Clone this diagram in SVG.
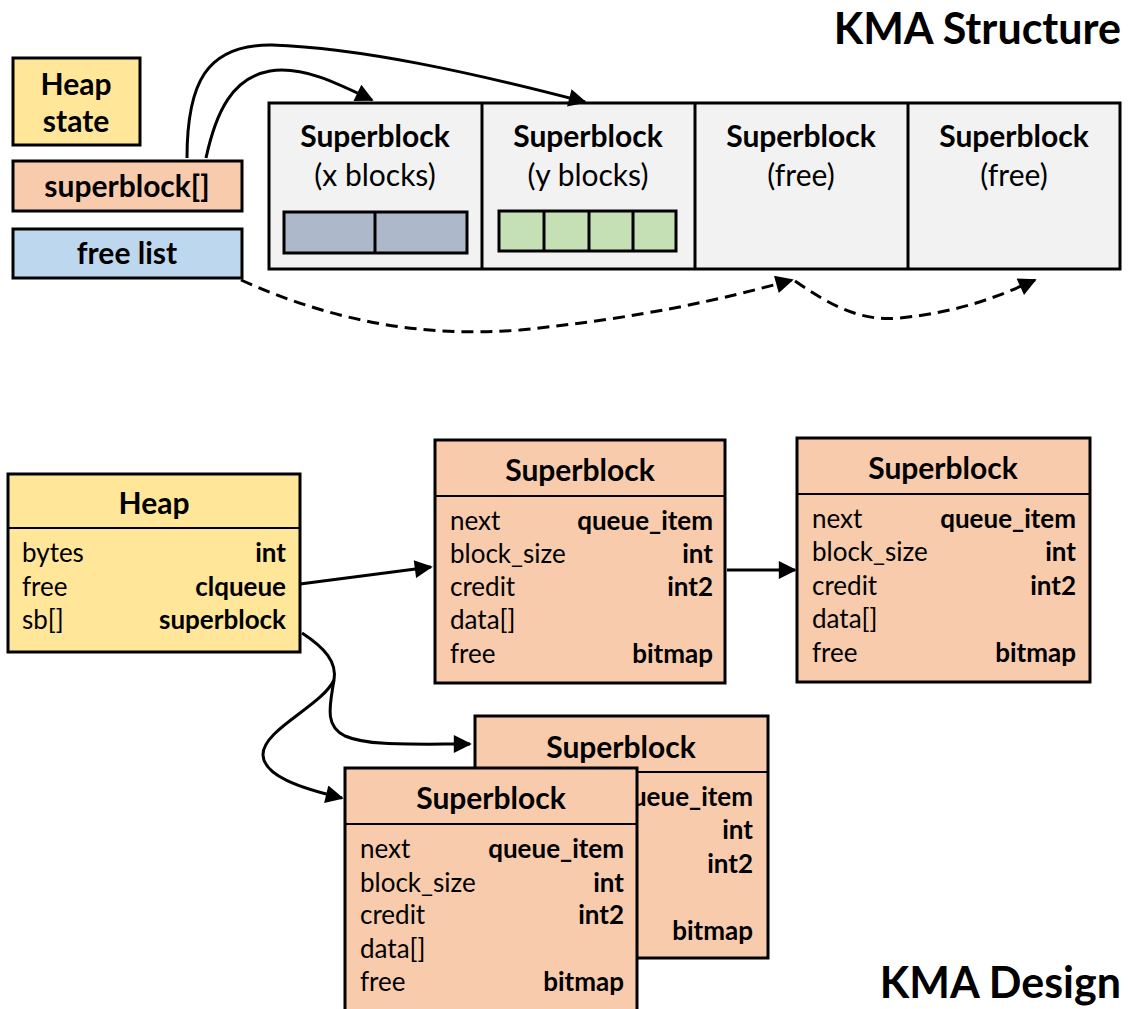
<svg xmlns="http://www.w3.org/2000/svg" width="1128" height="1009" viewBox="0 0 1128 1009">
  <style>
    text { font-family: Lato, "Open Sans", "Liberation Sans", sans-serif; fill: #000; }
    .title { font-size: 43px; font-weight: bold; text-anchor: end; }
    .lbl { font-size: 30px; font-weight: bold; text-anchor: middle; }
    .cellT { font-size: 30px; font-weight: bold; text-anchor: middle; }
    .cellS { font-size: 30px; text-anchor: middle; }
    .hdr { font-size: 30px; font-weight: bold; text-anchor: middle; }
    .f { font-size: 26px; }
    .t { font-size: 26px; font-weight: bold; text-anchor: end; }
    .box { stroke: #000; stroke-width: 3; }
    .div { stroke: #000; stroke-width: 2; fill: none; }
    .yel { fill: #FFE699; }
    .peach { fill: #F8CBAD; }
    .blue { fill: #BDD7EE; }
    .gray { fill: #F2F2F2; }
    .slate { fill: #ADB9CA; }
    .green { fill: #C5E0B4; }
    .wire { fill: none; stroke: #000; stroke-width: 3; }
    .dash { stroke-dasharray: 12 7; }
  </style>
  <defs>
    <marker id="arrow" viewBox="0 0 10 10" refX="9" refY="5" markerWidth="7.5" markerHeight="6" markerUnits="strokeWidth" orient="auto">
      <path d="M0,0 L10,5 L0,10 z" fill="#000"/>
    </marker>
  </defs>

  <rect width="1128" height="1009" fill="#fff"/>

  <!-- headings -->
  <text class="title" x="1121" y="44">KMA Structure</text>
  <text class="title" x="1121" y="998">KMA Design</text>

  <!-- ===== structure view ===== -->
  <g id="heap-state">
    <rect class="box yel" x="13" y="58" width="127" height="87"/>
    <text class="lbl" x="76" y="95">Heap</text>
    <text class="lbl" x="76" y="132">state</text>
  </g>
  <g id="superblock-array">
    <rect class="box peach" x="13" y="161" width="229" height="50"/>
    <text class="lbl" x="127" y="197">superblock[]</text>
  </g>
  <g id="free-list">
    <rect class="box blue" x="13" y="229" width="229" height="49"/>
    <text class="lbl" x="127" y="264">free list</text>
  </g>

  <g id="superblock-row">
    <rect class="box gray" x="269" y="103" width="851" height="166"/>
    <line class="box" x1="482" y1="103" x2="482" y2="269"/>
    <line class="box" x1="695" y1="103" x2="695" y2="269"/>
    <line class="box" x1="908" y1="103" x2="908" y2="269"/>
  </g>
  <g id="sb-x">
    <text class="cellT" x="375" y="147">Superblock</text>
    <text class="cellS" x="375" y="186">(x blocks)</text>
    <rect class="box slate" x="284" y="212" width="183" height="41"/>
    <line class="box" x1="375" y1="212" x2="375" y2="253"/>
  </g>
  <g id="sb-y">
    <text class="cellT" x="588" y="147">Superblock</text>
    <text class="cellS" x="588" y="186">(y blocks)</text>
    <rect class="box green" x="499" y="211" width="177" height="40"/>
    <line class="box" x1="544" y1="211" x2="544" y2="251"/>
    <line class="box" x1="589" y1="211" x2="589" y2="251"/>
    <line class="box" x1="633" y1="211" x2="633" y2="251"/>
  </g>
  <g id="sb-free-1">
    <text class="cellT" x="801" y="147">Superblock</text>
    <text class="cellS" x="801" y="186">(free)</text>
  </g>
  <g id="sb-free-2">
    <text class="cellT" x="1014" y="147">Superblock</text>
    <text class="cellS" x="1014" y="186">(free)</text>
  </g>

  <!-- ===== design view ===== -->
  <g id="heap">
    <rect class="box yel" x="8" y="474" width="292" height="178"/>
    <line class="div" x1="8" y1="528" x2="300" y2="528"/>
    <text class="hdr" x="154" y="514">Heap</text>
    <text class="f" x="22" y="562">bytes</text><text class="t" x="286" y="562">int</text>
    <text class="f" x="22" y="596">free</text><text class="t" x="286" y="596">clqueue</text>
    <text class="f" x="22" y="629">sb[]</text><text class="t" x="286" y="629">superblock</text>
  </g>

  <g id="superblock-1">
    <rect class="box peach" x="435" y="440" width="290" height="243"/>
    <line class="div" x1="435" y1="496" x2="725" y2="496"/>
    <text class="hdr" x="580" y="481">Superblock</text>
    <text class="f" x="450" y="530">next</text><text class="t" x="713" y="530">queue_item</text>
    <text class="f" x="450" y="563">block_size</text><text class="t" x="713" y="563">int</text>
    <text class="f" x="450" y="596">credit</text><text class="t" x="713" y="596">int2</text>
    <text class="f" x="450" y="629">data[]</text>
    <text class="f" x="450" y="663">free</text><text class="t" x="713" y="663">bitmap</text>
  </g>

  <g id="superblock-2">
    <rect class="box peach" x="797" y="438" width="293" height="244"/>
    <line class="div" x1="797" y1="494" x2="1090" y2="494"/>
    <text class="hdr" x="943" y="479">Superblock</text>
    <text class="f" x="812" y="528">next</text><text class="t" x="1076" y="528">queue_item</text>
    <text class="f" x="812" y="561">block_size</text><text class="t" x="1076" y="561">int</text>
    <text class="f" x="812" y="595">credit</text><text class="t" x="1076" y="595">int2</text>
    <text class="f" x="812" y="628">data[]</text>
    <text class="f" x="812" y="662">free</text><text class="t" x="1076" y="662">bitmap</text>
  </g>

  <!-- back card: its left column sits under the front card -->
  <g id="superblock-3">
    <rect class="box peach" x="475" y="716" width="293" height="242"/>
    <line class="div" x1="475" y1="772" x2="768" y2="772"/>
    <text class="hdr" x="621" y="758">Superblock</text>
    <text class="t" x="753" y="806">ueue_item</text>
    <text class="t" x="753" y="839">int</text>
    <text class="t" x="753" y="873">int2</text>
    <text class="t" x="753" y="940">bitmap</text>
  </g>

  <g id="superblock-4">
    <rect class="box peach" x="345" y="768" width="292" height="246"/>
    <line class="div" x1="345" y1="824" x2="637" y2="824"/>
    <text class="hdr" x="491" y="809">Superblock</text>
    <text class="f" x="360" y="858">next</text><text class="t" x="624" y="858">queue_item</text>
    <text class="f" x="360" y="892">block_size</text><text class="t" x="624" y="892">int</text>
    <text class="f" x="360" y="924">credit</text><text class="t" x="624" y="924">int2</text>
    <text class="f" x="360" y="958">data[]</text>
    <text class="f" x="360" y="991">free</text><text class="t" x="624" y="991">bitmap</text>
  </g>

  <!-- connectors -->
  <g id="connectors">
    <path class="wire" d="M187,158 C187,85 205,44 272,45 C360,48 470,72 585,102" marker-end="url(#arrow)"/>
    <path class="wire" d="M206,158 C216,112 232,78 270,71 C302,66 335,82 372,100" marker-end="url(#arrow)"/>
    <path class="wire dash" d="M241,280 C330,320 420,338 520,330 C640,318 720,300 792,280" marker-end="url(#arrow)"/>
    <path class="wire dash" d="M795,281 C830,305 860,322 900,318 C960,312 1000,296 1035,280" marker-end="url(#arrow)"/>
    <path class="wire" d="M300,584 L431,567" marker-end="url(#arrow)"/>
    <path class="wire" d="M727,570 L795,570" marker-end="url(#arrow)"/>
    <path class="wire" d="M302,633 C325,648 337,662 334,680 C330,705 324,726 345,736 C368,746 410,744 470,744" marker-end="url(#arrow)"/>
    <path class="wire" d="M334,680 C322,706 262,730 263,755 C264,776 300,788 342,798" marker-end="url(#arrow)"/>
  </g>
</svg>
